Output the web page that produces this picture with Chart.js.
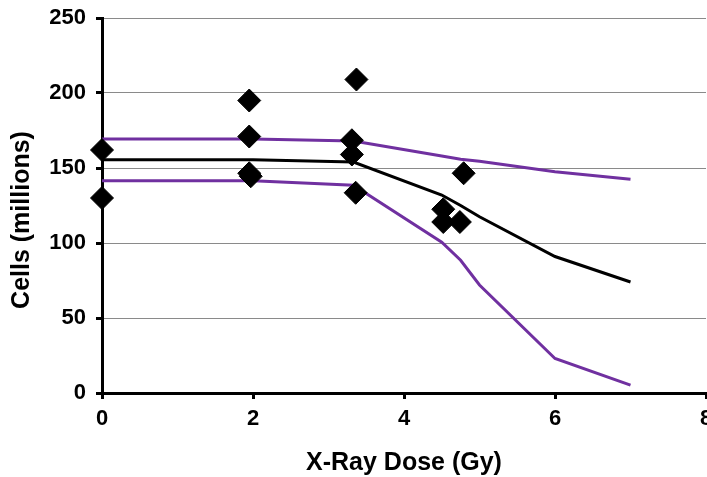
<!DOCTYPE html>
<html>
<head>
<meta charset="utf-8">
<script src="https://cdn.jsdelivr.net/npm/chart.js@4.4.0/dist/chart.umd.min.js"></script>
<style>
  html, body { margin: 0; padding: 0; background: #fff; overflow: hidden; width: 707px; height: 477px; }
  canvas { display: block; }
</style>
</head>
<body>
<canvas id="c" width="730" height="477"></canvas>
<script>
// ---- data ----
const obsDose  = [0, 0, 1.95, 1.95, 1.95, 1.97, 3.37, 3.31, 3.31, 3.36, 4.52, 4.52, 4.74, 4.79];
const obsCells = [162, 130, 195, 171, 146.5, 144.5, 209, 168.5, 159, 133.5, 122.5, 114, 114, 146.5];

const modelDose  = [0, 2, 3.33, 4.5, 4.75, 5, 6, 7];
const modelMean  = [155.5, 155.5, 154, 132, 125, 117.5, 91, 74];
const modelUpper = [169.3, 169.3, 168, 158, 155.8, 154.5, 147.5, 142.5];
const modelLower = [141.5, 141.5, 138.5, 100.5, 88.5, 72, 23, 5.3];

const yTicks = [0, 50, 100, 150, 200, 250];
const xTicks = [0, 2, 4, 6, 8];
const xTitle = 'X-Ray Dose (Gy)';
const yTitle = 'Cells (millions)';

const toXY = (xs, ys) => xs.map((x, i) => ({ x: x, y: ys[i] }));
const PURPLE = '#7030A0';
const FONT = '"Liberation Sans", Arial, sans-serif';

const titlePlugin = {
  id: 'axisTitles',
  afterDraw(chart) {
    const ctx = chart.ctx;
    const ca = chart.chartArea;
    ctx.save();
    ctx.fillStyle = '#000';
    ctx.font = 'bold 25px ' + FONT;
    ctx.textAlign = 'center';
    ctx.textBaseline = 'middle';
    ctx.fillText(xTitle, (ca.left + ca.right) / 2, 463);
    ctx.translate(22, 220);
    ctx.rotate(-Math.PI / 2);
    ctx.fillText(yTitle, 0, 0);
    ctx.restore();
  }
};

new Chart(document.getElementById('c'), {
  type: 'scatter',
  data: {
    datasets: [
      {
        label: 'Upper',
        type: 'line',
        data: toXY(modelDose, modelUpper),
        borderColor: PURPLE,
        borderWidth: 3,
        pointRadius: 0,
        fill: false,
        tension: 0,
        order: 3
      },
      {
        label: 'Mean',
        type: 'line',
        data: toXY(modelDose, modelMean),
        borderColor: '#000',
        borderWidth: 3,
        pointRadius: 0,
        fill: false,
        tension: 0,
        order: 2
      },
      {
        label: 'Lower',
        type: 'line',
        data: toXY(modelDose, modelLower),
        borderColor: PURPLE,
        borderWidth: 3,
        pointRadius: 0,
        fill: false,
        tension: 0,
        order: 4
      },
      {
        label: 'Observed',
        data: toXY(obsDose, obsCells),
        pointStyle: 'rectRot',
        pointRadius: 11.5,
        pointHoverRadius: 11.5,
        backgroundColor: '#000',
        borderColor: '#000',
        borderWidth: 1,
        clip: false,
        order: 1
      }
    ]
  },
  options: {
    responsive: false,
    animation: false,
    events: [],
    layout: { padding: { top: 18, right: 24, left: 0, bottom: 0 } },
    plugins: { legend: { display: false }, tooltip: { enabled: false } },
    scales: {
      x: {
        type: 'linear',
        min: 0, max: 8,
        afterBuildTicks: (s) => { s.ticks = xTicks.map(v => ({ value: v })); },
        afterFit: (s) => { s.height = 84; s.paddingLeft = 0; s.paddingRight = 0; },
        ticks: {
          color: '#000',
          font: { family: FONT, size: 22, weight: 'bold' },
          padding: 7,
          maxRotation: 0
        },
        grid: { drawOnChartArea: false, drawTicks: true, tickLength: 6, tickColor: '#000', tickWidth: 3 },
        border: { color: '#000', width: 3 }
      },
      y: {
        type: 'linear',
        min: 0, max: 250,
        afterBuildTicks: (s) => { s.ticks = yTicks.map(v => ({ value: v })); },
        afterFit: (s) => { s.width = 102; s.paddingTop = 0; s.paddingBottom = 0; },
        ticks: {
          color: '#000',
          font: { family: FONT, size: 22, weight: 'bold' },
          padding: 10
        },
        grid: { color: '#8a8a8a', lineWidth: 1, drawTicks: true, tickLength: 6, tickColor: '#000', tickWidth: 3 },
        border: { color: '#000', width: 3 }
      }
    }
  },
  plugins: [titlePlugin]
});
</script>
</body>
</html>
